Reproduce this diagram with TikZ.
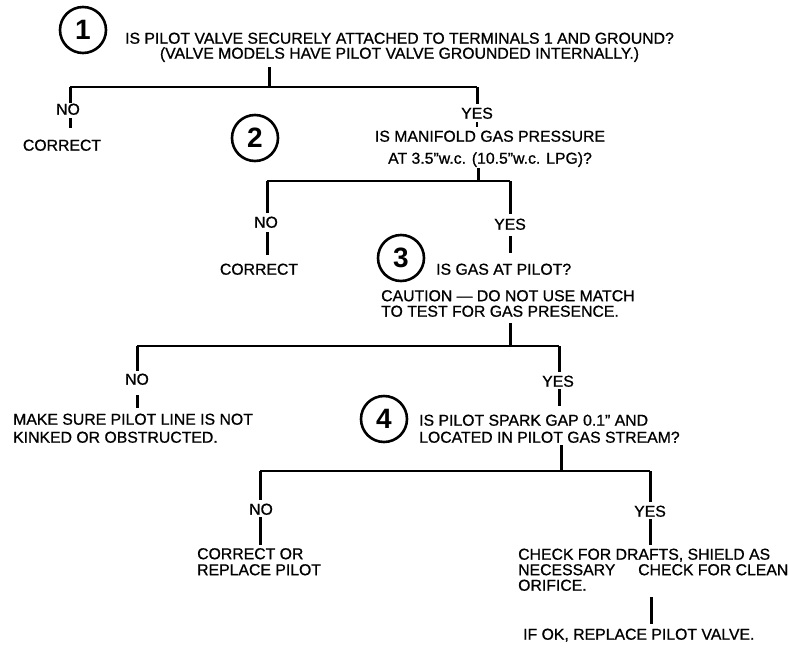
\documentclass[tikz,border=0pt]{standalone}
\usepackage{fontspec}
\setmainfont{Liberation Sans}
\newfontfamily\medfam{Liberation Sans}[Ligatures=TeX,FakeBold=0.8]
\newcommand{\txtfont}{\medfam\fontsize{15.8}{18}\selectfont}
\newcommand{\numfont}{\fontsize{28}{28}\selectfont\bfseries}
\tikzset{
  txt/.style={font=\txtfont, inner sep=0pt, anchor=base west},
  ctxt/.style={font=\txtfont, inner sep=0pt, anchor=base},
  numcirc/.style={circle, draw, line width=2.6pt, minimum size=46pt, inner sep=0pt, font=\numfont},
  vline/.style={line width=3pt},
  hbar/.style={line width=2.3pt},
}
\begin{document}
\begin{tikzpicture}[x=1pt,y=-1pt]
\useasboundingbox (0,0) rectangle (789,648);
% circles
\node[numcirc] (c1) at (83,30) {1};
\node[numcirc] (c2) at (255,138) {2};
\node[numcirc] (c3) at (401,258) {3};
\node[numcirc] (c4) at (384,419) {4};
% question 1
\node[ctxt] (q1a) at (399.5,43.7) {IS PILOT VALVE SECURELY ATTACHED TO TERMINALS 1 AND GROUND?};
\node[ctxt] (q1b) at (399.5,58.7) {(VALVE MODELS HAVE PILOT VALVE GROUNDED INTERNALLY.)};
\node[ctxt] (no1) at (68,114.7) {NO};
\node[ctxt] (yes1) at (477,118.7) {YES};
\node[ctxt] (cor1) at (62,150.7) {CORRECT};
% question 2
\node[ctxt] (q2a) at (490,141.7) {IS MANIFOLD GAS PRESSURE};
\node[ctxt] (q2b) at (490,163.7) {AT 3.5”w.c. (10.5”w.c. LPG)?};
\node[ctxt] (no2) at (266,227.7) {NO};
\node[ctxt] (yes2) at (510,229.7) {YES};
\node[ctxt] (cor2) at (259,274.7) {CORRECT};
% question 3
\node[txt] (q3a) at (436,274.7) {IS GAS AT PILOT?};
\node[txt] (q3b) at (381,301.2) {CAUTION — DO NOT USE MATCH};
\node[txt] (q3c) at (381,316.7) {TO TEST FOR GAS PRESENCE.};
\node[ctxt] (no3) at (137,384.7) {NO};
\node[ctxt] (yes3) at (558,386.7) {YES};
\node[txt] (m3a) at (13,424.7) {MAKE SURE PILOT LINE IS NOT};
\node[txt] (m3b) at (13,442.7) {KINKED OR OBSTRUCTED.};
% question 4
\node[txt] (q4a) at (419,425.7) {IS PILOT SPARK GAP 0.1” AND};
\node[txt] (q4b) at (419,442.7) {LOCATED IN PILOT GAS STREAM?};
\node[ctxt] (no4) at (261,514.7) {NO};
\node[ctxt] (yes4) at (650,516.7) {YES};
\node[txt] (r4a) at (197,559.2) {CORRECT OR};
\node[txt] (r4b) at (197,575.2) {REPLACE PILOT};
\node[txt] (k4a) at (518,559.7) {CHECK FOR DRAFTS, SHIELD AS};
\node[txt] (k4b) at (518,575.2) {NECESSARY};
\node[txt] (k4c) at (638,575.2) {CHECK FOR CLEAN};
\node[txt] (k4d) at (518,590.7) {ORIFICE.};
\node[txt] (fin) at (523,639.7) {IF OK, REPLACE PILOT VALVE.};
% coordinates
\coordinate (s1t) at (269,67);   \coordinate (s1b) at (269,87);
\coordinate (b1L) at (70,87);    \coordinate (b1R) at (477,87);
\coordinate (n1a) at (70,103);   \coordinate (n1b) at (70,118);  \coordinate (n1c) at (70,128);
\coordinate (y1a) at (477,104);  \coordinate (y1b) at (477,122); \coordinate (y1c) at (477,127);
\coordinate (s2t) at (478,168);  \coordinate (s2b) at (478,181);
\coordinate (b2L) at (267,181);  \coordinate (b2R) at (510,181);
\coordinate (n2a) at (267,213);  \coordinate (n2b) at (267,232); \coordinate (n2c) at (267,255);
\coordinate (y2a) at (510,214);  \coordinate (y2b) at (510,236); \coordinate (y2c) at (510,253);
\coordinate (s3t) at (510,323);  \coordinate (s3b) at (510,346);
\coordinate (b3L) at (137,346);  \coordinate (b3R) at (559,346);
\coordinate (n3a) at (137,371);  \coordinate (n3b) at (137,395); \coordinate (n3c) at (137,408);
\coordinate (y3a) at (559,372);  \coordinate (y3b) at (559,389); \coordinate (y3c) at (559,406);
\coordinate (s4t) at (561,445);  \coordinate (s4b) at (561,471);
\coordinate (b4L) at (260,471);  \coordinate (b4R) at (650,471);
\coordinate (n4a) at (260,500);  \coordinate (n4b) at (260,517); \coordinate (n4c) at (260,545);
\coordinate (y4a) at (650,502);  \coordinate (y4b) at (650,519); \coordinate (y4c) at (650,545);
\coordinate (f4a) at (651,597);  \coordinate (f4b) at (651,624);
% connectors
\draw[vline] (s1t) -- (s1b);
\draw[hbar] (b1L) -- (b1R);
\draw[vline] (b1L) -- (n1a);  \draw[vline] (n1b) -- (n1c);
\draw[vline] (b1R) -- (y1a);  \draw[line width=2.4pt] (y1b) -- (y1c);
\draw[vline] (s2t) -- (s2b);
\draw[hbar] (b2L) -- (b2R);
\draw[vline] (b2L) -- (n2a);  \draw[vline] (n2b) -- (n2c);
\draw[vline] (b2R) -- (y2a);  \draw[vline] (y2b) -- (y2c);
\draw[vline] (s3t) -- (s3b);
\draw[hbar] (b3L) -- (b3R);
\draw[vline] (b3L) -- (n3a);  \draw[vline] (n3b) -- (n3c);
\draw[vline] (b3R) -- (y3a);  \draw[vline] (y3b) -- (y3c);
\draw[vline] (s4t) -- (s4b);
\draw[hbar] (b4L) -- (b4R);
\draw[vline] (b4L) -- (n4a);  \draw[vline] (n4b) -- (n4c);
\draw[vline] (b4R) -- (y4a);  \draw[vline] (y4b) -- (y4c);
\draw[vline] (f4a) -- (f4b);
\end{tikzpicture}
\end{document}
